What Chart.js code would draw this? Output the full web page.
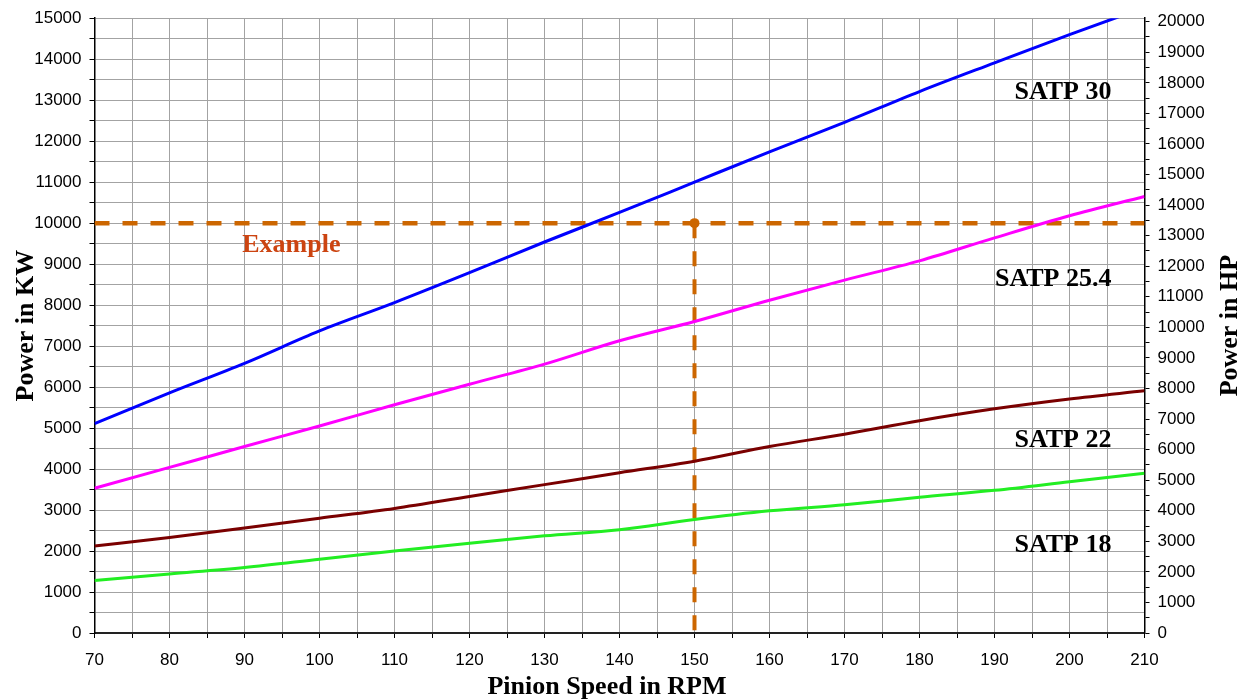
<!DOCTYPE html>
<html>
<head>
<meta charset="utf-8">
<script src="https://cdn.jsdelivr.net/npm/chart.js@4.4.1/dist/chart.umd.min.js"></script>
<style>
html,body{margin:0;padding:0;background:#fff;}
#wrap{width:1241px;height:700px;position:relative;}
</style>
</head>
<body>
<div id="wrap"><canvas id="c" width="1241" height="700"></canvas></div>
<script>
// ---- data ----
const rpm      = [70, 80, 90, 100, 110, 120, 130, 140, 150, 160, 170, 180, 190, 200, 210];
const satp30   = [5110, 5860, 6580, 7370, 8060, 8790, 9540, 10260, 11000, 11740, 12460, 13210, 13910, 14600, 15260];
const satp254  = [3530, 4040, 4550, 5050, 5570, 6070, 6560, 7130, 7600, 8120, 8610, 9080, 9640, 10180, 10650];
const satp22   = [2120, 2330, 2560, 2800, 3040, 3330, 3620, 3910, 4190, 4550, 4850, 5180, 5470, 5710, 5910];
const satp18   = [1280, 1440, 1600, 1800, 2000, 2190, 2370, 2520, 2770, 2980, 3130, 3310, 3480, 3690, 3900];
const seriesNames = ['SATP 30', 'SATP 25.4', 'SATP 22', 'SATP 18'];
const exampleRpm = 150;
const exampleKw  = 10000;
const exampleLabel = 'Example';
const xTickLabels  = [70, 80, 90, 100, 110, 120, 130, 140, 150, 160, 170, 180, 190, 200, 210];
const kwTickLabels = [0, 1000, 2000, 3000, 4000, 5000, 6000, 7000, 8000, 9000, 10000, 11000, 12000, 13000, 14000, 15000];
const hpTickLabels = [0, 1000, 2000, 3000, 4000, 5000, 6000, 7000, 8000, 9000, 10000, 11000, 12000, 13000, 14000, 15000, 16000, 17000, 18000, 19000, 20000];
const kwToHp = 1.341;
const xTitle = 'Pinion Speed in RPM';
const yTitle = 'Power in KW';
const y2Title = 'Power in HP';

// ---- styling / placement (not data) ----
const colors = ['#0000FF', '#FF00FF', '#7A0000', '#22EE22'];
const exampleColor = '#CC6600';
const exampleTextColor = '#CC4411';
const labelAnchors = [ // in data units: [rpm, kW] of right end / baseline
  [205.6, 13020], [205.6, 8474], [205.6, 4536], [205.6, 1980]
];
const exampleAnchor = [89.7, 9300];
const tickFont = {family: '"Liberation Sans", Arial, sans-serif', size: 17};
const titleFont = 'bold 26px "Liberation Serif", "Times New Roman", serif';
const gridColor = '#a3a3a3';

const toXY = (arr) => rpm.map((r, i) => ({x: r, y: arr[i]}));
const seriesData = [satp30, satp254, satp22, satp18];

const datasets = seriesData.map((arr, i) => ({
  label: seriesNames[i],
  data: toXY(arr),
  borderColor: colors[i],
  backgroundColor: colors[i],
  borderWidth: 3,
  pointRadius: 0,
  cubicInterpolationMode: 'monotone',
  fill: false
}));
datasets.push({
  label: 'Example horizontal',
  data: [{x: xTickLabels[0], y: exampleKw}, {x: xTickLabels[xTickLabels.length - 1], y: exampleKw}],
  borderColor: exampleColor, borderWidth: 4.5, borderDash: [15, 13], pointRadius: 0, fill: false
});
datasets.push({
  label: 'Example vertical',
  data: [{x: exampleRpm, y: exampleKw}, {x: exampleRpm, y: 0}],
  borderColor: exampleColor, backgroundColor: exampleColor, borderWidth: 4, borderDash: [15, 13],
  pointRadius: [5, 0], pointBorderWidth: 0, fill: false
});

const textPlugin = {
  id: 'texts',
  afterDraw(chart) {
    const {ctx, scales: {x, y}, chartArea} = chart;
    ctx.save();
    ctx.font = titleFont;
    ctx.fillStyle = '#000';
    ctx.textBaseline = 'alphabetic';
    ctx.textAlign = 'right';
    seriesNames.forEach((name, i) => {
      ctx.fillText(name, x.getPixelForValue(labelAnchors[i][0]), y.getPixelForValue(labelAnchors[i][1]));
    });
    ctx.fillStyle = exampleTextColor;
    ctx.textAlign = 'left';
    ctx.fillText(exampleLabel, x.getPixelForValue(exampleAnchor[0]), y.getPixelForValue(exampleAnchor[1]));
    // axis titles
    ctx.fillStyle = '#000';
    ctx.textAlign = 'center';
    ctx.fillText(xTitle, 607, 694);
    const midY = (chartArea.top + chartArea.bottom) / 2;
    ctx.save();
    ctx.translate(33, midY);
    ctx.rotate(-Math.PI / 2);
    ctx.fillText(yTitle, 0, 0);
    ctx.restore();
    ctx.save();
    ctx.translate(1237, midY);
    ctx.rotate(-Math.PI / 2);
    ctx.fillText(y2Title, 0, 0);
    ctx.restore();
    ctx.restore();
  }
};

new Chart(document.getElementById('c'), {
  type: 'line',
  data: {datasets},
  options: {
    responsive: false,
    animation: false,
    layout: {padding: {top: 17, left: 0, right: 0, bottom: 0}},
    plugins: {legend: {display: false}, tooltip: {enabled: false}},
    scales: {
      x: {
        type: 'linear', position: 'bottom',
        min: xTickLabels[0], max: xTickLabels[xTickLabels.length - 1],
        afterFit(s) { s.height = 67; },
        ticks: {stepSize: 5, autoSkip: false, maxRotation: 0, padding: 12, color: '#000', font: tickFont,
          callback: (v) => xTickLabels.includes(v) ? String(v) : ''},
        grid: {color: gridColor, lineWidth: 1, tickLength: 5, tickColor: '#000'},
        border: {display: true, color: '#222', width: 2}
      },
      y: {
        type: 'linear', position: 'left',
        min: 0, max: kwTickLabels[kwTickLabels.length - 1],
        afterFit(s) { s.width = 94.5; },
        ticks: {stepSize: 500, autoSkip: false, padding: 8, color: '#000', font: tickFont,
          callback: (v) => kwTickLabels.includes(v) ? String(v) : ''},
        grid: {color: gridColor, lineWidth: 1, tickLength: 5, tickColor: '#000'},
        border: {display: true, color: '#000', width: 1.5}
      },
      y2: {
        type: 'linear', position: 'right',
        min: 0, max: kwTickLabels[kwTickLabels.length - 1] * kwToHp,
        afterFit(s) { s.width = 96.5; },
        afterBuildTicks(s) {
          const t = [];
          for (let v = 0; v <= hpTickLabels[hpTickLabels.length - 1]; v += 500) t.push({value: v});
          s.ticks = t;
        },
        ticks: {autoSkip: false, padding: 8, color: '#000', font: tickFont,
          callback: (v) => hpTickLabels.includes(v) ? String(v) : ''},
        grid: {drawOnChartArea: false, tickLength: 5, tickColor: '#000'},
        border: {display: true, color: '#000', width: 1.5}
      }
    }
  },
  plugins: [textPlugin]
});
</script>
</body>
</html>
